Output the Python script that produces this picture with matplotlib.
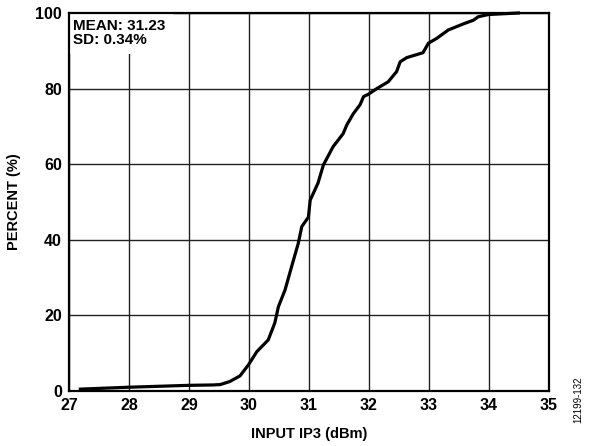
import matplotlib.pyplot as plt

# cumulative distribution
ip3_dbm = [27.19, 28.0, 29.0, 29.4, 29.52, 29.68, 29.85, 29.99, 30.13, 30.32, 30.43,
           30.49, 30.6, 30.71, 30.82, 30.88, 30.99, 31.02, 31.15, 31.24, 31.4,
           31.57, 31.63, 31.74, 31.85, 31.91, 31.99, 32.13, 32.32, 32.46, 32.52,
           32.63, 32.9, 32.99, 33.13, 33.32, 33.57, 33.74, 33.82, 33.99, 34.49]
percent = [0.5, 1.0, 1.5, 1.6, 1.7, 2.5, 4.0, 6.9, 10.4, 13.5, 18.0,
           22.3, 26.7, 32.9, 39.0, 43.5, 46.0, 50.5, 55.0, 59.8, 64.6,
           68.1, 70.4, 73.4, 75.7, 77.9, 78.5, 80.0, 81.8, 84.5, 87.1,
           88.2, 89.5, 92.0, 93.3, 95.5, 97.1, 98.1, 99.0, 99.6, 100.0]

x_ticks = [27, 28, 29, 30, 31, 32, 33, 34, 35]
y_ticks = [0, 20, 40, 60, 80, 100]

plt.rcParams['font.family'] = ['Liberation Sans', 'DejaVu Sans']

fig = plt.figure(figsize=(5.95, 4.46), dpi=100)
ax = fig.add_axes([69 / 595, 1 - 391 / 446, 480 / 595, 378 / 446])

ax.plot(ip3_dbm, percent, color='black', linewidth=2.3, zorder=3, clip_on=False)

ax.set_xlim(27, 35)
ax.set_ylim(0, 100)
ax.set_xticks(x_ticks)
ax.set_yticks(y_ticks)
ax.grid(True, color='#222222', linewidth=1.0)
ax.set_axisbelow(True)
ax.tick_params(length=0, pad=5, labelsize=11.5)
for lbl in ax.get_xticklabels() + ax.get_yticklabels():
    lbl.set_fontweight('bold')
for s in ax.spines.values():
    s.set_linewidth(1.6)
    s.set_zorder(5)

ax.set_xlabel('INPUT IP3 (dBm)', fontsize=10.5, fontweight='bold', labelpad=10)
ax.set_ylabel('PERCENT (%)', fontsize=10.5, fontweight='bold', labelpad=10)

ax.text(0.009, 0.985, 'MEAN: 31.23\nSD: 0.34%', transform=ax.transAxes,
        fontsize=11, fontweight='bold', va='top', ha='left', linespacing=1.0,
        bbox=dict(facecolor='white', edgecolor='none', pad=5), zorder=4)

fig.text(578 / 595, 1 - 400 / 446, '12199-132', rotation=90, fontsize=7,
         ha='center', va='center')

fig.savefig('out.png', dpi=100)
